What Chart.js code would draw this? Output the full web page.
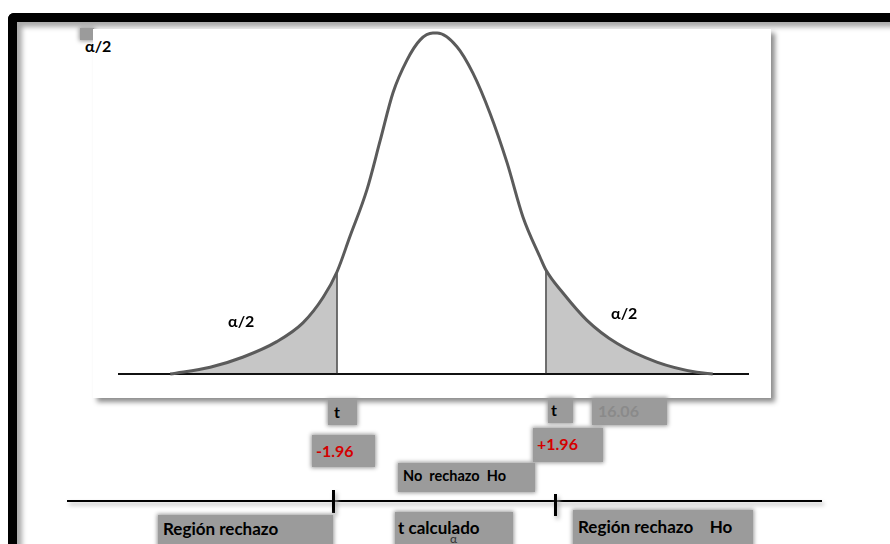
<!DOCTYPE html>
<html>
<head>
<meta charset="utf-8">
<script src="https://cdn.jsdelivr.net/npm/chart.js@4.4.0/dist/chart.umd.min.js"></script>
<style>
  body { margin: 0; width: 890px; height: 544px; overflow: hidden; background: #fff; position: relative; font-family: Lato, "Open Sans", sans-serif; }
  .frame { position: absolute; left: 8px; top: 13px; width: 900px; height: 560px; border-left: 9px solid #000; border-top: 9px solid #000; border-top-left-radius: 6px; box-shadow: inset 5px 5px 5px #aaa; }
  .panel { position: absolute; left: 93px; top: 29px; width: 678px; height: 369px; background: #fff; box-shadow: 4px 4px 5px #8c8c8c; }
  .box { position: absolute; background: #9b9b9b; box-shadow: 0 0 4px 1px #9b9b9b; }
  .lbl { position: absolute; font-weight: bold; font-size: 16px; line-height: 18px; color: #000; white-space: pre; }
  .red { color: #d40000; font-size: 16px; }
  .big { font-size: 17px; }
  .rule { position: absolute; background: #000; box-shadow: 2px 3px 4px #aaa; }
  #wrap { position: absolute; left: 118px; top: 24px; width: 631px; height: 360px; }
</style>
</head>
<body>
<div class="frame"></div>
<div class="box" style="left:80px;top:28px;width:14px;height:12px;"></div>
<div class="panel"></div>
<div id="wrap"><canvas id="curve" width="631" height="360"></canvas></div>

<div class="lbl" style="left:85px;top:37px;">α/2</div>
<div class="lbl" style="left:228px;top:312px;">α/2</div>
<div class="lbl" style="left:611px;top:304px;">α/2</div>

<div class="box" style="left:328px;top:400px;width:29px;height:25px;"></div>
<div class="lbl" style="left:334px;top:403px;">t</div>
<div class="box" style="left:548px;top:398px;width:25px;height:25px;"></div>
<div class="lbl" style="left:551px;top:401px;">t</div>
<div class="box" style="left:592px;top:398px;width:75px;height:27px;"></div>
<div class="lbl" style="left:598px;top:402px;color:#8a8a8a;">16.06</div>

<div class="box" style="left:312px;top:435px;width:63px;height:32px;"></div>
<div class="lbl red" style="left:316px;top:442px;">-1.96</div>
<div class="box" style="left:533px;top:428px;width:70px;height:34px;"></div>
<div class="lbl red" style="left:537px;top:435px;">+1.96</div>

<div class="box" style="left:398px;top:463px;width:137px;height:29px;"></div>
<div class="lbl" style="left:403px;top:467px;font-size:14.5px;">No  rechazo  Ho</div>

<div class="rule" style="left:67px;top:500px;width:755px;height:2px;"></div>
<div class="rule" style="left:332px;top:490px;width:3px;height:23px;"></div>
<div class="rule" style="left:554px;top:494px;width:3px;height:22px;"></div>

<div class="box" style="left:158px;top:515px;width:175px;height:32px;"></div>
<div class="lbl big" style="left:163px;top:520px;">Región rechazo</div>
<div class="box" style="left:395px;top:512px;width:118px;height:35px;"></div>
<div class="lbl big" style="left:398px;top:519px;">t calculado</div>
<div class="lbl" style="left:450px;top:530px;font-weight:normal;font-size:12px;color:#333;">α</div>
<div class="box" style="left:573px;top:510px;width:180px;height:37px;"></div>
<div class="lbl big" style="left:578px;top:518px;">Región rechazo    Ho</div>

<script>
// curve (t on x, height on y)
const curveX = [-5.09, -4.34, -3.72, -3.09, -2.60, -2.22, -1.96, -1.72, -1.40, -1.15, -0.91, -0.65, -0.40, -0.16, -0.08,
                0.29, 0.59, 0.91, 1.23, 1.53, 1.85, 1.96, 2.28, 2.73, 3.29, 4.04, 4.79, 5.09];
const curveY = [0.000, 0.008, 0.020, 0.038, 0.060, 0.090, 0.120, 0.161, 0.216, 0.274, 0.330, 0.368, 0.392, 0.400, 0.400,
                0.384, 0.353, 0.306, 0.248, 0.184, 0.137, 0.122, 0.095, 0.063, 0.036, 0.014, 0.002, 0.000];
const critValues = [-1.96, 1.96];
const axisRange = [-6.07, 5.77];

const curvePts = curveX.map(function (x, i) {
  return { x: x, y: curveY[i] };
});
const leftTail = curvePts.filter(function (p) { return p.x <= critValues[0]; });
const rightTail = curvePts.filter(function (p) { return p.x >= critValues[1]; });

const critLines = critValues.map(function (c) {
  const top = curvePts.find(function (p) { return p.x === c; });
  return {
    data: [{ x: c, y: 0 }, { x: c, y: top.y }],
    borderColor: '#222',
    borderWidth: 1.2,
    pointRadius: 0,
    order: 1,
    clip: false
  };
});

new Chart(document.getElementById('curve'), {
  type: 'line',
  data: {
    datasets: [
      {
        data: curvePts,
        borderColor: '#5b5b5b',
        borderWidth: 3,
        pointRadius: 0,
        cubicInterpolationMode: 'monotone',
        fill: false,
        order: 0,
        clip: false
      },
      {
        data: leftTail,
        borderWidth: 0,
        pointRadius: 0,
        cubicInterpolationMode: 'monotone',
        backgroundColor: '#c6c6c6',
        fill: 'origin',
        order: 3
      },
      {
        data: rightTail,
        borderWidth: 0,
        pointRadius: 0,
        cubicInterpolationMode: 'monotone',
        backgroundColor: '#c6c6c6',
        fill: 'origin',
        order: 3
      },
      critLines[0],
      critLines[1],
      {
        // baseline
        data: [{ x: axisRange[0], y: 0 }, { x: axisRange[1], y: 0 }],
        borderColor: '#111',
        borderWidth: 2,
        pointRadius: 0,
        order: 2,
        clip: false
      }
    ]
  },
  options: {
    responsive: false,
    animation: false,
    layout: { padding: 0 },
    plugins: { legend: { display: false }, tooltip: { enabled: false } },
    scales: {
      x: { type: 'linear', display: false, min: axisRange[0], max: axisRange[1] },
      y: { type: 'linear', display: false, min: -0.0117, max: 0.4106 }
    }
  }
});
</script>
</body>
</html>
